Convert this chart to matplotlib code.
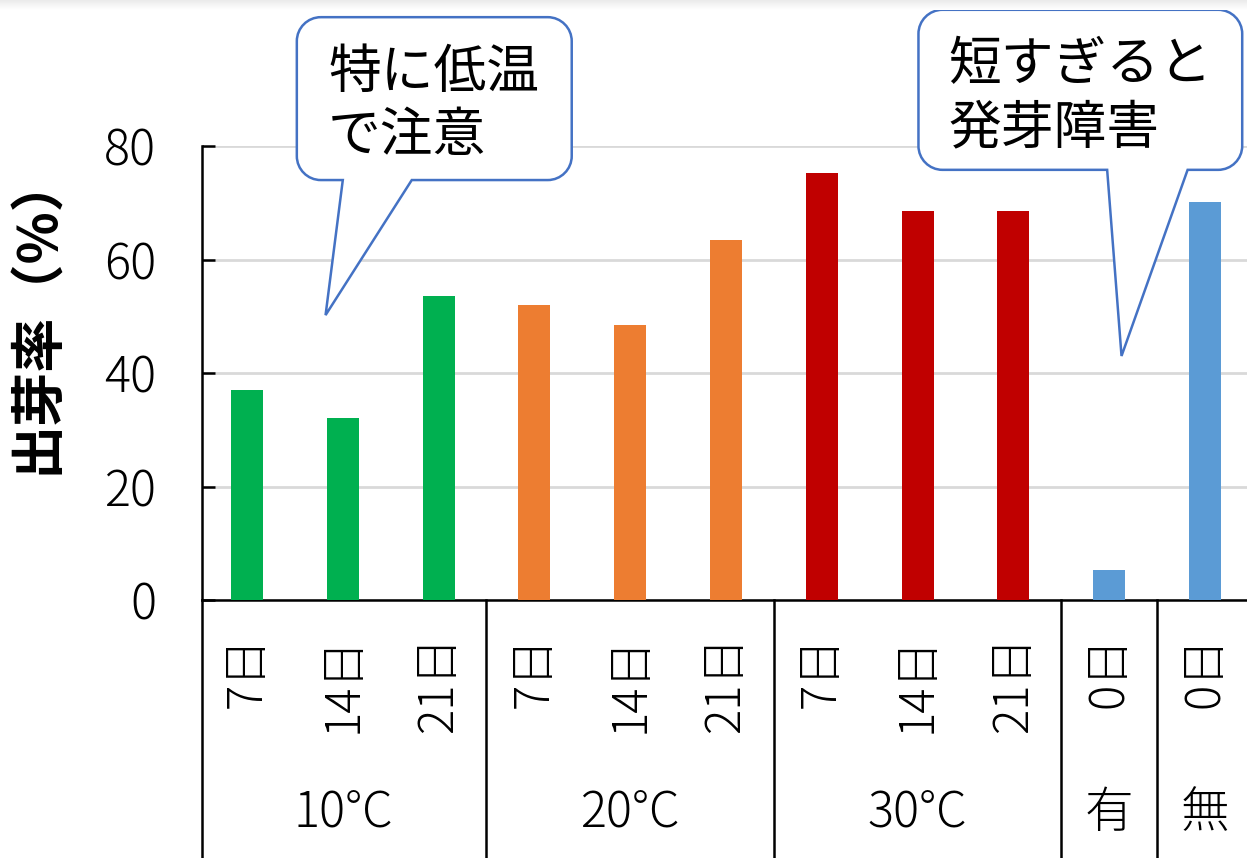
import matplotlib
matplotlib.use("Agg")
import matplotlib.pyplot as plt
import numpy as np
from matplotlib.path import Path
from matplotlib.patches import PathPatch
import matplotlib.transforms as mtransforms

plt.rcParams['font.family'] = ['Noto Sans CJK JP', 'DejaVu Sans']
plt.rcParams['font.weight'] = 'light'

# ---- data ----
day_labels = ["7日", "14日", "21日", "7日", "14日", "21日", "7日", "14日", "21日", "0日", "0日"]
values = [37, 32, 53.5, 52, 48.5, 63.4, 75.2, 68.5, 68.5, 5.2, 70.1]
group_names = ["10°C", "20°C", "30°C", "有", "無"]
group_sizes = [3, 3, 3, 1, 1]
group_colors = ["#00B050", "#ED7D31", "#C00000", "#5B9BD5", "#5B9BD5"]
y_ticks = [0, 20, 40, 60, 80]
y_label = "出芽率（%）"
callout1_lines = ["特に低温", "で注意"]
callout2_lines = ["短すぎると", "発芽障害"]

W, H = 1247, 858
fig = plt.figure(figsize=(W / 100, H / 100), dpi=100)
ax = fig.add_axes([202 / W, (H - 600) / H, 1 - 202 / W, (600 - 146) / H])

colors = []
for c, n in zip(group_colors, group_sizes):
    colors += [c] * n
x = np.arange(len(values))
ax.bar(x, values, width=0.334, color=colors, zorder=3)

ax.set_xlim(-0.47, 10.44)
ax.set_ylim(0, 80)
ax.set_yticks(y_ticks)
ax.set_xticks([])
ax.tick_params(axis='y', direction='in', length=9, width=1.8, labelsize=35, pad=33)
ax.yaxis.grid(True, color="#d9d9d9", linewidth=2.0, zorder=0)
for s in ['top', 'right']:
    ax.spines[s].set_visible(False)
for s in ['left', 'bottom']:
    ax.spines[s].set_linewidth(1.8)
    ax.spines[s].set_color('black')

trans = mtransforms.blended_transform_factory(ax.transData, ax.transAxes)
# tick labels (rotated)
for xi, lab in zip(x, day_labels):
    ax.text(xi, -0.078, lab, rotation=90, ha='center', va='top', fontsize=34,
            transform=trans, clip_on=False)
# group labels & separators
start = 0
bounds = [-0.47]
for name, n in zip(group_names, group_sizes):
    center = start + (n - 1) / 2
    ax.text(center, -0.469, name, ha='center', va='center', fontsize=35,
            transform=trans, clip_on=False)
    start += n
    bounds.append(start - 0.5)
for b in bounds:
    if b > 10.3:
        continue
    ax.plot([b, b], [0, -0.7], color='black', lw=1.8, transform=trans, clip_on=False)

fig.text(38 / W, 1 - 474 / H, y_label, rotation=90, ha='center', va='bottom',
         fontsize=39, fontweight='bold')


def callout(x0, x1, y0, y1, bx0, bx1, tip, rpx=24):
    # box in data coords: x0<x1, y0 (bottom) < y1 (top); tail base on bottom edge
    rx = rpx / 95.8
    ry = rpx / 5.675
    k = 0.5523
    verts = [
        (x0 + rx, y1), (x1 - rx, y1),
        (x1 - rx + k * rx, y1), (x1, y1 - ry + k * ry), (x1, y1 - ry),
        (x1, y0 + ry),
        (x1, y0 + ry - k * ry), (x1 - rx + k * rx, y0), (x1 - rx, y0),
        (bx1, y0), tip, (bx0, y0),
        (x0 + rx, y0),
        (x0 + rx - k * rx, y0), (x0, y0 + ry - k * ry), (x0, y0 + ry),
        (x0, y1 - ry),
        (x0, y1 - ry + k * ry), (x0 + rx - k * rx, y1), (x0 + rx, y1),
    ]
    codes = [Path.MOVETO, Path.LINETO,
             Path.CURVE4, Path.CURVE4, Path.CURVE4,
             Path.LINETO,
             Path.CURVE4, Path.CURVE4, Path.CURVE4,
             Path.LINETO, Path.LINETO, Path.LINETO,
             Path.LINETO,
             Path.CURVE4, Path.CURVE4, Path.CURVE4,
             Path.LINETO,
             Path.CURVE4, Path.CURVE4, Path.CURVE4]
    p = PathPatch(Path(verts, codes), facecolor='white', edgecolor='#4472C4',
                  lw=1.8, transform=ax.transData, clip_on=False, zorder=5)
    ax.add_patch(p)


callout(0.52, 3.39, 74.0, 102.7, 1.00, 1.72, (0.82, 50.2))
callout(7.01, 10.39, 75.8, 104.0, 8.98, 9.82, (9.13, 43.0))
ax.text(0.845, 93.0, callout1_lines[0], ha='left', va='center', fontsize=38, fontweight='normal', zorder=6, clip_on=False)
ax.text(0.845, 81.9, callout1_lines[1], ha='left', va='center', fontsize=38, fontweight='normal', zorder=6, clip_on=False)
ax.text(7.32, 94.3, callout2_lines[0], ha='left', va='center', fontsize=38, fontweight='normal', zorder=6, clip_on=False)
ax.text(7.32, 83.2, callout2_lines[1], ha='left', va='center', fontsize=38, fontweight='normal', zorder=6, clip_on=False)

# faint top strip
tax = fig.add_axes([0, 1 - 10 / H, 1, 10 / H])
grad = np.linspace(0.92, 1.0, 20).reshape(-1, 1)
tax.imshow(grad, aspect='auto', cmap='gray', vmin=0, vmax=1, extent=[0, 1, 0, 1])
tax.axis('off')

fig.savefig("out.png", dpi=100)
